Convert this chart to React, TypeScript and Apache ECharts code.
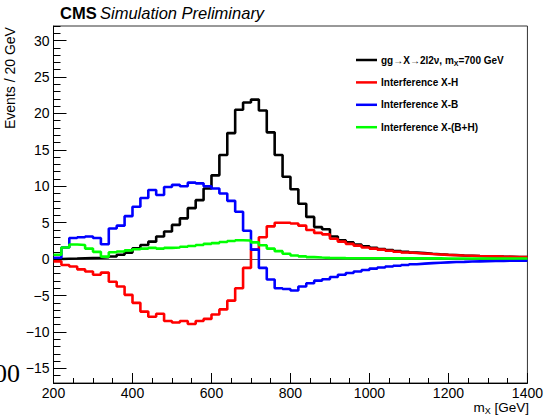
import React, { useEffect, useRef } from "react";
import * as echarts from "echarts";

// Histogram binning (GeV)
const BIN_START = 200;
const BIN_WIDTH = 20;

// Events / 20 GeV per bin (60 bins, 200–1400 GeV)
const signal = [
  0.02, 0.05, 0.08, 0.12, 0.16, 0.2, 0.25, 0.36, 0.6, 0.9,
  1.5, 1.95, 2.4, 3.1, 3.8, 4.7, 5.6, 7.0, 8.1, 9.7,
  11.5, 14.3, 17.3, 20.5, 21.5, 21.9, 20.4, 17.4, 14.3, 11.3,
  9.6, 7.6, 5.8, 4.4, 4.1, 3.1, 2.6, 2.3, 2.0, 1.75,
  1.55, 1.4, 1.25, 1.1, 1.0, 0.9, 0.82, 0.74, 0.67, 0.61,
  0.56, 0.51, 0.47, 0.43, 0.4, 0.37, 0.34, 0.32, 0.3, 0.28,
];
const interfXH = [
  -0.3, -0.8, -1.0, -1.4, -1.7, -2.15, -1.85, -3.1, -3.75, -4.9,
  -6.0, -7.2, -7.9, -7.5, -8.5, -8.7, -8.5, -8.9, -8.5, -8.2,
  -7.6, -6.9, -5.7, -4.0, -1.2, 1.3, 3.0, 4.5, 5.0, 5.0,
  4.9, 4.6, 4.0, 3.6, 3.4, 2.8, 2.4, 2.1, 1.85, 1.6,
  1.45, 1.3, 1.15, 1.02, 0.92, 0.85, 0.78, 0.7, 0.64, 0.58,
  0.54, 0.5, 0.47, 0.43, 0.4, 0.38, 0.35, 0.33, 0.3, 0.3,
];
const interfXB = [
  0.2, 1.6, 2.9, 3.0, 3.1, 2.9, 2.05, 4.2, 4.6, 5.9,
  7.2, 8.4, 9.5, 8.8, 9.9, 10.2, 10.0, 10.5, 10.4, 10.0,
  9.7, 9.0, 8.0, 6.5, 3.9, 1.3, -1.2, -2.8, -4.0, -4.1,
  -4.3, -3.75, -3.3, -2.95, -2.75, -2.45, -2.15, -1.9, -1.7, -1.5,
  -1.3, -1.15, -1.0, -0.9, -0.8, -0.7, -0.62, -0.55, -0.5, -0.45,
  -0.4, -0.37, -0.33, -0.3, -0.28, -0.26, -0.24, -0.22, -0.2, -0.2,
];
const interfXBH = [
  0.6, 1.6, 2.0, 1.95, 1.45, 1.0, 0.35, 0.95, 1.05, 1.2,
  1.35, 1.45, 1.55, 1.45, 1.55, 1.6, 1.7, 1.8, 1.95, 2.1,
  2.2, 2.35, 2.5, 2.6, 2.55, 2.3, 1.9, 1.45, 1.1, 0.75,
  0.5, 0.38, 0.28, 0.22, 0.18, 0.16, 0.14, 0.13, 0.12, 0.12,
  0.12, 0.11, 0.11, 0.11, 0.1, 0.1, 0.1, 0.1, 0.1, 0.09,
  0.09, 0.09, 0.09, 0.09, 0.08, 0.08, 0.08, 0.08, 0.08, 0.08,
];

const seriesNames = [
  "gg→X→2l2ν, m_X=700 GeV",
  "Interference X-H",
  "Interference X-B",
  "Interference X-(B+H)",
];
const seriesColors = ["#000000", "#ff0000", "#0000ff", "#00ff00"];
const seriesValues = [signal, interfXH, interfXB, interfXBH];

const yMajorTicks = [-15, -10, -5, 0, 5, 10, 15, 20, 25, 30];
const Y_MIN = -17;
const Y_MAX = 32;
const X_MIN = 200;
const X_MAX = 1400;

const FONT = "'Liberation Sans', Arial, Helvetica, sans-serif";

function toSteps(vals: number[]): [number, number][] {
  const pts: [number, number][] = vals.map((v, i) => [BIN_START + i * BIN_WIDTH, v]);
  pts.push([BIN_START + vals.length * BIN_WIDTH, vals[vals.length - 1]]);
  return pts;
}

export default function App() {
  const ref = useRef<HTMLDivElement>(null);
  useEffect(() => {
    if (!ref.current) return;
    const chart = echarts.init(ref.current, null, { renderer: "svg" });

    const legendTop = 60;
    const legendStep = 22.4;
    const legendGraphics: any[] = [];
    seriesNames.forEach((name, i) => {
      const y = legendTop + i * legendStep;
      legendGraphics.push({
        type: "line",
        shape: { x1: 356, y1: y, x2: 377, y2: y },
        style: { stroke: seriesColors[i], lineWidth: 2.5 },
        z: 20,
      });
      let txt = name;
      if (name.includes("_X")) {
        const parts = name.split("_X");
        txt = `{n|${parts[0]}}{s|X}{n|${parts[1]}}`;
      } else {
        txt = `{n|${name}}`;
      }
      legendGraphics.push({
        type: "text",
        x: 381,
        y: y,
        style: {
          text: txt,
          textVerticalAlign: "middle",
          rich: {
            n: { fontFamily: FONT, fontSize: 10, fontWeight: "bold", fill: "#000" },
            s: {
              fontFamily: FONT,
              fontSize: 7,
              fontWeight: "bold",
              fill: "#000",
              verticalAlign: "bottom",
              padding: [6, 0, 0, 0],
            },
          },
        },
        z: 20,
      });
    });

    const series: any[] = seriesValues.map((vals, i) => ({
      name: seriesNames[i],
      type: "line",
      step: "end",
      symbol: "none",
      xAxisIndex: 0,
      yAxisIndex: 0,
      data: toSteps(vals),
      lineStyle: { color: seriesColors[i], width: 2.6 },
      z: 5 + i,
    }));
    series.unshift({
      type: "line",
      symbol: "none",
      data: [],
      z: 2,
      markLine: {
        silent: true,
        symbol: ["none", "none"],
        label: { show: false },
        lineStyle: { color: "#555", width: 1, type: "solid" },
        data: [{ yAxis: 0 }],
      },
    });

    chart.setOption({
      animation: false,
      backgroundColor: "#ffffff",
      grid: {
        left: 53.5,
        top: 26,
        width: 475.5,
        height: 357,
        show: true,
        borderColor: "#333",
        borderWidth: 1,
        backgroundColor: "transparent",
      },
      xAxis: {
        type: "value",
        min: X_MIN,
        max: X_MAX,
        interval: 200,
        axisLine: { show: true, onZero: false, lineStyle: { color: "#000", width: 1 } },
        splitLine: { show: false },
        axisTick: { show: true, inside: true, length: 10, lineStyle: { color: "#000" } },
        minorTick: { show: true, splitNumber: 4, length: 5, lineStyle: { color: "#000" } },
        axisLabel: {
          fontFamily: FONT,
          fontSize: 14,
          color: "#000",
          margin: 3,
          showMinLabel: true,
          showMaxLabel: true,
          formatter: (v: number) => String(v),
        },
      },
      yAxis: [
        {
          type: "value",
          min: Y_MIN,
          max: Y_MAX,
          position: "left",
          offset: 0,
          axisLine: { show: true, onZero: false, lineStyle: { color: "#000", width: 1 } },
          splitLine: { show: false },
          axisTick: {
            show: true,
            inside: true,
            length: 13,
            customValues: yMajorTicks,
            lineStyle: { color: "#000" },
          },
          axisLabel: {
            fontFamily: FONT,
            fontSize: 14,
            color: "#000",
            margin: 4,
            customValues: yMajorTicks,
            formatter: (v: number) => String(v).replace("-", "\u2212"),
          },
        },
        {
          type: "value",
          min: Y_MIN,
          max: Y_MAX,
          interval: 1,
          position: "left",
          offset: 0,
          axisLine: { show: false, onZero: false },
          splitLine: { show: false },
          axisLabel: { show: false },
          axisTick: { show: true, inside: true, length: 7, lineStyle: { color: "#000" } },
        },
      ],
      series,
      graphic: [
        {
          type: "text",
          x: 60,
          y: 21,
          style: {
            text: "{b|CMS} {i|Simulation Preliminary}",
            textVerticalAlign: "bottom",
            rich: {
              b: { fontFamily: FONT, fontSize: 16.5, fontWeight: "bold", fill: "#000" },
              i: { fontFamily: FONT, fontSize: 16.5, fontStyle: "italic", fill: "#000" },
            },
          },
        },
        {
          type: "text",
          x: 17,
          y: 129,
          rotation: Math.PI / 2,
          style: {
            text: "Events / 20 GeV",
            fontFamily: FONT,
            fontSize: 14,
            fill: "#000",
            textAlign: "left",
            textVerticalAlign: "bottom",
          },
        },
        {
          type: "text",
          x: 529,
          y: 415,
          style: {
            text: "{n|m}{s|X}{n| [GeV]}",
            textAlign: "right",
            textVerticalAlign: "bottom",
            rich: {
              n: { fontFamily: FONT, fontSize: 13.5, fill: "#000" },
              s: { fontFamily: FONT, fontSize: 9, fill: "#000", padding: [6, 0, 0, 0] },
            },
          },
        },
        {
          type: "text",
          x: -6,
          y: 386,
          style: {
            text: "00",
            fontFamily: "'Liberation Serif', 'DejaVu Serif', serif",
            fontSize: 26,
            fill: "#000",
            textAlign: "left",
            textVerticalAlign: "bottom",
          },
        },
        ...legendGraphics,
      ],
    });

    return () => chart.dispose();
  }, []);

  return (
    <div
      ref={ref}
      style={{ position: "fixed", left: 0, top: 0, width: 546, height: 415, background: "#fff" }}
    />
  );
}
